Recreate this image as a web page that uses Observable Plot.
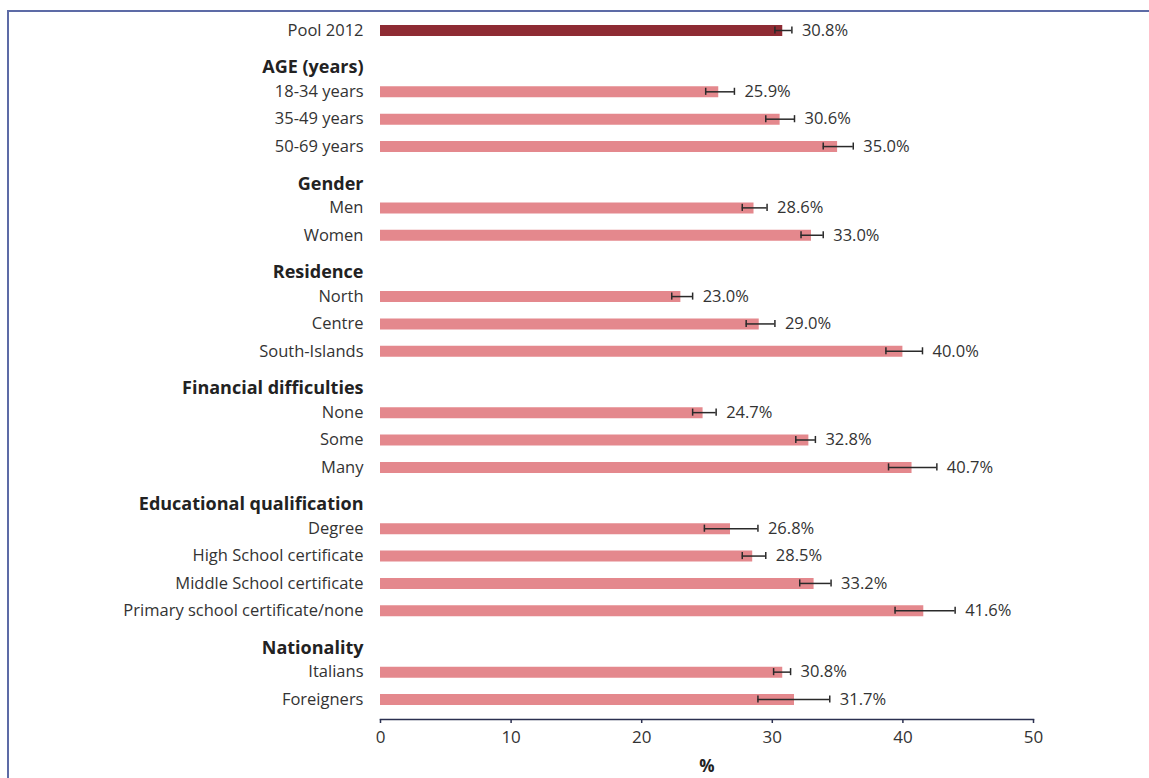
<!DOCTYPE html>
<html>
<head>
<meta charset="utf-8">
<script src="https://cdn.jsdelivr.net/npm/d3@7"></script>
<script src="https://cdn.jsdelivr.net/npm/@observablehq/plot@0.6"></script>
<style>
  html, body { margin: 0; padding: 0; background: #fff; }
  #wrap { position: relative; width: 1149px; height: 778px; overflow: hidden; }
  #border { position: absolute; left: 7px; top: 10px; width: 1200px; height: 900px;
            border-top: 2px solid #5d6ba6; border-left: 2px solid #5d6ba6; pointer-events: none; }
  #chart { position: absolute; left: 0; top: 0; }
</style>
</head>
<body>
<div id="wrap"><div id="border"></div><div id="chart"></div></div>
<script>
// ---- data ----
const labels = ["Pool 2012", "18-34 years", "35-49 years", "50-69 years", "Men", "Women",
  "North", "Centre", "South-Islands", "None", "Some", "Many",
  "Degree", "High School certificate", "Middle School certificate", "Primary school certificate/none",
  "Italians", "Foreigners"];
const groupIndex = [0, 1, 1, 1, 2, 2, 3, 3, 3, 4, 4, 4, 5, 5, 5, 5, 6, 6];
const headers = ["AGE (years)", "Gender", "Residence", "Financial difficulties", "Educational qualification", "Nationality"];
const values = [30.8, 25.9, 30.6, 35.0, 28.6, 33.0, 23.0, 29.0, 40.0, 24.7, 32.8, 40.7, 26.8, 28.5, 33.2, 41.6, 30.8, 31.7];
const lows  = [30.2, 24.9, 29.5, 33.9, 27.7, 32.2, 22.3, 28.0, 38.7, 23.9, 31.8, 38.9, 24.8, 27.7, 32.1, 39.4, 30.1, 28.9];
const highs = [31.5, 27.1, 31.7, 36.2, 29.6, 33.9, 23.9, 30.2, 41.5, 25.7, 33.3, 42.6, 28.9, 29.5, 34.5, 44.0, 31.4, 34.4];
const xTicks = [0, 10, 20, 30, 40, 50];

// ---- layout (row positions in row units) ----
const GROUP_GAP = 1.36, HEADER_GAP = 0.88;
const rows = [], headerRows = [];
let pos = 0, lastGroup = 0;
labels.forEach((label, i) => {
  const g = groupIndex[i];
  if (i > 0) {
    if (g !== lastGroup) {
      pos += GROUP_GAP;
      headerRows.push({label: headers[g - 1], pos});
      pos += HEADER_GAP;
    } else pos += 1;
  }
  lastGroup = g;
  rows.push({label, value: values[i], lo: lows[i], hi: highs[i], pos, pool: i === 0});
});
const total = pos;

const font = "'Open Sans', 'DejaVu Sans', sans-serif";
const chart = Plot.plot({
  width: 1149,
  height: 778,
  marginLeft: 380,
  marginRight: 116,
  marginTop: 0,
  marginBottom: 59,
  style: {fontFamily: font, fontSize: "16px", color: "#333", background: "transparent"},
  x: {domain: [0, 50], ticks: xTicks},
  y: {domain: [0, total], range: [30, 699], axis: null},
  marks: [
    Plot.ruleY(rows, {y: "pos", x1: 0, x2: "value", strokeWidth: 11,
      stroke: d => d.pool ? "#8e2b33" : "#e4888d"}),
    Plot.ruleY(rows, {y: "pos", x1: "lo", x2: "hi", stroke: "#2a2a2a", strokeWidth: 1.5}),
    Plot.ruleX(rows, {x: "lo", y1: d => d.pos - 0.13, y2: d => d.pos + 0.13, stroke: "#2a2a2a", strokeWidth: 1.5}),
    Plot.ruleX(rows, {x: "hi", y1: d => d.pos - 0.13, y2: d => d.pos + 0.13, stroke: "#2a2a2a", strokeWidth: 1.5}),
    Plot.text(rows, {x: "hi", y: "pos", text: d => d.value.toFixed(1) + "%", dx: 10,
      textAnchor: "start", fontSize: 16.5, fill: "#333"}),
    Plot.text(rows, {frameAnchor: "left", y: "pos", text: "label", dx: -17,
      textAnchor: "end", fontSize: 16.5, fill: "#333"}),
    Plot.text(headerRows, {frameAnchor: "left", y: "pos", text: "label", dx: -17,
      textAnchor: "end", fontSize: 18, fontWeight: "bold", fill: "#222"}),
    Plot.frame({anchor: "bottom", stroke: "#2b3050", strokeWidth: 1.5}),
    Plot.axisX({ticks: xTicks, tickSize: 4, tickPadding: 7, label: null, fontSize: 17,
      stroke: "#2b3050", strokeWidth: 1.5, fill: "#333"}),
    Plot.text(["%"], {frameAnchor: "bottom", dy: 47, text: d => d, fontWeight: "bold",
      fontSize: 17, fill: "#222", lineAnchor: "middle"})
  ]
});
document.getElementById("chart").appendChild(chart);
</script>
</body>
</html>
